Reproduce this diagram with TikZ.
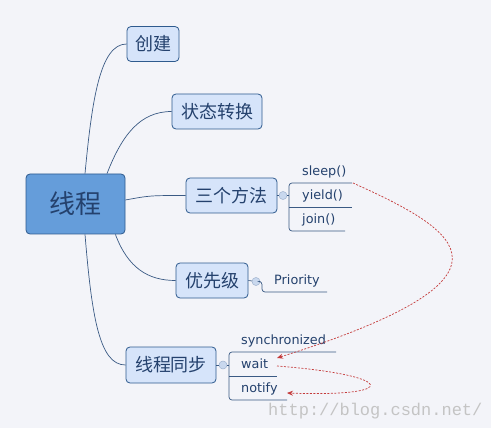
\documentclass[tikz,border=0pt]{standalone}
\usepackage{fontspec}
\setmainfont{DejaVu Sans}
\newfontfamily\cjk{Noto Sans CJK SC}
\newfontfamily\wm{Liberation Mono}
\usetikzlibrary{arrows.meta}
\definecolor{bg}{HTML}{F3F4F9}
\definecolor{edge}{HTML}{3A5A84}
\definecolor{boxline}{HTML}{2E5A8E}
\definecolor{boxfill}{HTML}{D6E4FA}
\definecolor{mainfill}{HTML}{659DDA}
\definecolor{txt}{HTML}{24416D}
\definecolor{arr}{HTML}{C43A3A}
\definecolor{wmgray}{HTML}{C4C4C4}
\definecolor{knob}{HTML}{C9D8EE}
\begin{document}
\begin{tikzpicture}[x=1pt,y=-1pt,
  topic/.style={draw=boxline, fill=boxfill, rounded corners=4pt, line width=0.8pt, text=txt, inner sep=0pt, font=\cjk\fontsize{18}{18}\selectfont},
  leaf/.style={text=txt, inner sep=0pt, anchor=west, font=\fontsize{12.8}{13}\selectfont},
  link/.style={draw=edge, line width=0.7pt},
  knobst/.style={circle, draw=knob!70!edge, fill=knob, minimum size=8pt, inner sep=0pt, line width=0.5pt},
  redarrow/.style={draw=arr, dash pattern=on 2pt off 1.5pt, line width=0.7pt, -{Stealth[length=6pt,width=5pt]}}
]
\fill[bg] (0,0) rectangle (491,428);
\useasboundingbox (0,0) rectangle (491,428);

\node[topic, fill=mainfill, minimum width=99pt, minimum height=60pt, font=\cjk\fontsize{26}{26}\selectfont] (main) at (75.5,204) {线程};
\node[topic, minimum width=52pt, minimum height=35pt] (create) at (153,44) {创建};
\node[topic, minimum width=90pt, minimum height=35pt] (state) at (217,111.5) {状态转换};
\node[topic, minimum width=91pt, minimum height=35pt] (three) at (231.5,195.5) {三个方法};
\node[topic, minimum width=72pt, minimum height=35pt] (prio) at (212,280.5) {优先级};
\node[topic, minimum width=90pt, minimum height=36pt] (sync) at (171,365) {线程同步};

\draw[link] ([xshift=9.5pt]main.north) .. controls (92,100) and (100,44) .. (create.west);
\draw[link] ([xshift=31.5pt]main.north) .. controls (122,135) and (140,111.5) .. (state.west);
\draw[link] ([yshift=4pt]main.east) .. controls (150,195.5) .. (three.west);
\draw[link] ([xshift=-10pt]main.south east) .. controls (128,268) and (148,280.5) .. (prio.west);
\draw[link] ([xshift=9.5pt]main.south) .. controls (92,320) and (100,365) .. (sync.west);

% three methods
\node[knobst] (k3) at (283,195.5) {};
\draw[link] (three.east) -- (k3);
\draw[link, rounded corners=3pt] (352,183) -- (289,183) -- (289,231) -- (345,231);
\draw[link] (289,207) -- (352,207);
\draw[link] (k3) -- (289,195.5);
\node[leaf] (sleep) at (302,172) {sleep()};
\node[leaf] (yield) at (302,196) {yield()};
\node[leaf] (join) at (302,220) {join()};

% priority
\node[knobst] (k4) at (256,281.5) {};
\draw[link] (prio.east) -- (k4);
\draw[link, rounded corners=3pt] (k4) -- (262,281.5) -- (262,292) -- (327,292);
\node[leaf] (priority) at (274,281) {Priority};

% sync
\node[knobst] (k5) at (223,365) {};
\draw[link] (sync.east) -- (k5);
\draw[link, rounded corners=3pt] (336,352) -- (229,352) -- (229,400) -- (287,400);
\draw[link] (229,376) -- (277,376);
\draw[link] (k5) -- (229,365);
\node[leaf] (synchronized) at (241,341) {synchronized};
\node[leaf] (wait) at (241,364) {wait};
\node[leaf] (notify) at (241,389) {notify};

% red arrows
\coordinate (a1) at (353,183);
\coordinate (a2) at (277,358);
\draw[redarrow] (a1) .. controls (462,232) and (533,277) .. (a2);
\coordinate (b1) at (277,366);
\coordinate (b2) at (287,393);
\draw[redarrow] (b1) .. controls (394,375) and (404,397) .. (b2);

\node[anchor=base west, text=wmgray, font=\wm\fontsize{17}{17}\selectfont, inner sep=0pt] (wm) at (268,415) {http://blog.csdn.net/};
\end{tikzpicture}
\end{document}
